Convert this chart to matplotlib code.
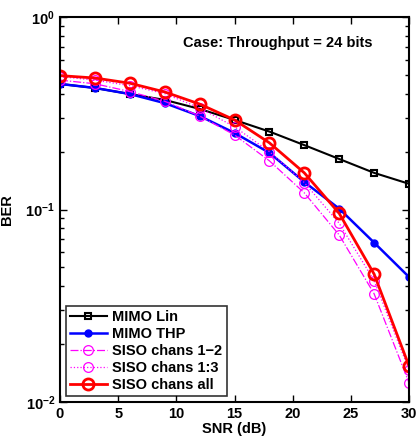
import numpy as np
import matplotlib
matplotlib.use("Agg")
import matplotlib.pyplot as plt
from matplotlib.ticker import LogLocator, NullFormatter

plt.rcParams['font.family'] = ['Liberation Sans', 'DejaVu Sans']
plt.rcParams['font.weight'] = 'bold'
plt.rcParams['mathtext.fontset'] = 'custom'
plt.rcParams['mathtext.rm'] = 'Liberation Sans:bold'
plt.rcParams['mathtext.bf'] = 'Liberation Sans:bold'
plt.rcParams['mathtext.default'] = 'bf'

# data
snr = [0, 3, 6, 9, 12, 15, 18, 21, 24, 27, 30]
mimo_lin = [0.449, 0.428, 0.398, 0.371, 0.333, 0.292, 0.254, 0.216, 0.183, 0.155, 0.136]
mimo_thp = [0.449, 0.428, 0.398, 0.357, 0.306, 0.250, 0.197, 0.139, 0.101, 0.0673, 0.0446]
siso_12 = [0.47, 0.45, 0.41, 0.365, 0.306, 0.244, 0.179, 0.122, 0.0737, 0.0365, 0.0126]
siso_13 = [0.49, 0.47, 0.44, 0.40, 0.337, 0.269, 0.200, 0.138, 0.0848, 0.0427, 0.0147]
siso_all = [0.496, 0.482, 0.453, 0.408, 0.353, 0.292, 0.222, 0.155, 0.0955, 0.0462, 0.0154]

fig = plt.figure(figsize=(4.17, 4.38), dpi=100)
ax = fig.add_axes([60/417, 1-402/438, 349/417, 385/438])

ax.semilogy(snr, mimo_lin, 'k-s', lw=1.5, ms=5, mfc='none', mew=1.5, label='MIMO Lin')
ax.semilogy(snr, mimo_thp, 'b-o', lw=1.8, ms=5, label='MIMO THP')
ax.semilogy(snr, siso_12, color='magenta', ls='-.', lw=0.9, marker='o', ms=7,
            mfc='none', mew=0.9, label='SISO chans 1\u22122')
ax.semilogy(snr, siso_13, color='magenta', ls=':', lw=0.9, marker='o', ms=7,
            mfc='none', mew=0.9, label='SISO chans 1:3')
ax.semilogy(snr, siso_all, 'r-o', lw=2, ms=8, mfc='none', mew=2, label='SISO chans all')

ax.set_xlim(0, 30)
ax.set_ylim(1e-2, 1)
ax.set_xticks([0, 5, 10, 15, 20, 25, 30])
ax.yaxis.set_minor_locator(LogLocator(base=10, subs=np.arange(2, 10)))
ax.yaxis.set_minor_formatter(NullFormatter())
ax.tick_params(which='both', direction='in', top=True, right=True, labelsize=10.5, width=1)
ax.tick_params(which='major', length=5)
ax.tick_params(which='minor', length=3)
for s in ax.spines.values():
    s.set_linewidth(1.5)

ax.set_xlabel('SNR (dB)', fontsize=10.5, fontweight='bold', labelpad=1)
ax.set_ylabel('BER', fontsize=10.5, fontweight='bold', labelpad=8)

ax.text(0.625, 0.932, 'Case: Throughput = 24 bits', transform=ax.transAxes,
        ha='center', va='center', fontsize=10.5, fontweight='bold')

leg = ax.legend(loc='lower left', fontsize=10.5, frameon=True, fancybox=False,
                handlelength=2.5, borderaxespad=0.4, labelspacing=0.2,
                handletextpad=0.4, borderpad=0.3)
leg.get_frame().set_edgecolor('black')
leg.get_frame().set_linewidth(1.2)

fig.savefig('out.png', dpi=100)
